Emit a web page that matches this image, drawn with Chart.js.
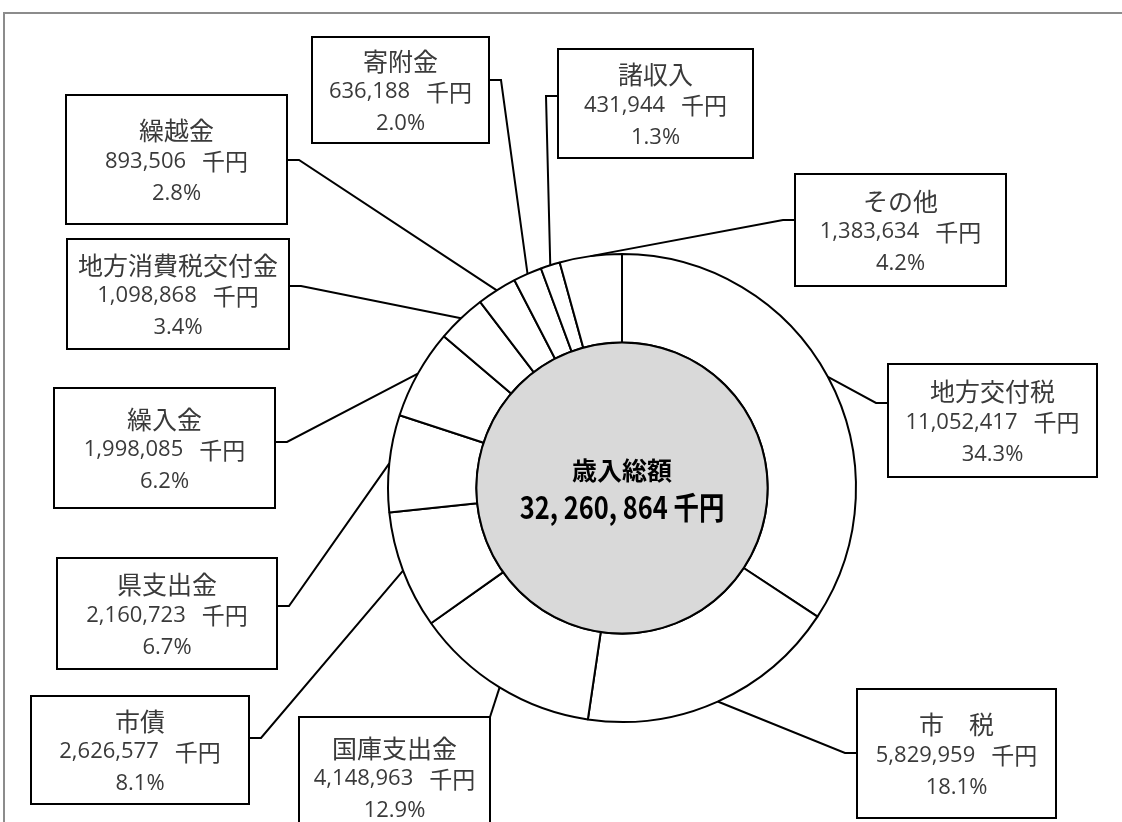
<!DOCTYPE html>
<html lang="ja">
<head>
<meta charset="utf-8">
<script src="https://cdn.jsdelivr.net/npm/chart.js@4.4.0/dist/chart.umd.min.js"></script>
<style>
  html, body { margin: 0; padding: 0; background: #fff; }
  #wrap { width: 1122px; height: 822px; position: relative; }
</style>
</head>
<body>
<div id="wrap"><canvas id="revenueChart" width="1122" height="822"></canvas></div>
<script>
const categories = ['地方交付税', '市　税', '国庫支出金', '市債', '県支出金', '繰入金', '地方消費税交付金', '繰越金', '寄附金', '諸収入', 'その他'];
const amounts = [11052417, 5829959, 4148963, 2626577, 2160723, 1998085, 1098868, 893506, 636188, 431944, 1383634];
const shareLabels = ['34.3%', '18.1%', '12.9%', '8.1%', '6.7%', '6.2%', '3.4%', '2.8%', '2.0%', '1.3%', '4.2%'];
const totalTitle = '歳入総額';
const unit = '千円';

// label boxes [x, y, w, h]; side = where the leader line meets the box, ly = its y
const callouts = [
    { box: [888, 364, 209, 113], side: 'left', ly: 403 },
    { box: [857, 689, 199, 129], side: 'left', ly: 753 },
    { box: [299, 717, 191, 120], side: 'corner' },
    { box: [31, 696, 218, 108], side: 'right', ly: 738 },
    { box: [57, 558, 220, 111], side: 'right', ly: 606 },
    { box: [54, 388, 221, 120], side: 'right', ly: 442 },
    { box: [67, 239, 222, 110], side: 'right', ly: 286 },
    { box: [66, 95, 221, 129], side: 'right', ly: 160 },
    { box: [312, 37, 177, 106], side: 'right', ly: 80 },
    { box: [558, 49, 195, 109], side: 'left', ly: 96 },
    { box: [795, 174, 211, 112], side: 'left', ly: 220 }
];

const numFont = '22px "Open Sans", "Noto Sans CJK JP"';
const unitFont = '23px "Noto Sans CJK JP"';
const nameFont = '25px "Noto Sans CJK JP"';

function fmt(n) {
    return n.toLocaleString('en-US');
}

const framePlugin = {
    id: 'frame',
    beforeDraw(chart) {
        const ctx = chart.ctx;
        ctx.save();
        ctx.strokeStyle = '#8c8c8c';
        ctx.lineWidth = 2;
        ctx.beginPath();
        ctx.moveTo(4, 830);
        ctx.lineTo(4, 13);
        ctx.lineTo(1130, 13);
        ctx.stroke();
        ctx.restore();
    }
};

// "1,998,085  千円" -- number and unit use different faces, so draw them as two runs
function drawAmount(ctx, text, cx, y) {
    const gap = 16;
    ctx.font = numFont;
    const w1 = ctx.measureText(text).width;
    ctx.font = unitFont;
    const w2 = ctx.measureText(unit).width;
    const x0 = cx - (w1 + gap + w2) / 2;
    ctx.textAlign = 'left';
    ctx.font = numFont;
    ctx.fillText(text, x0, y);
    ctx.font = unitFont;
    ctx.fillText(unit, x0 + w1 + gap, y);
    ctx.textAlign = 'center';
}

const calloutPlugin = {
    id: 'callouts',
    afterDatasetsDraw(chart) {
        const ctx = chart.ctx;
        const meta = chart.getDatasetMeta(0);
        const first = meta.data[0];
        const cx = first.x, cy = first.y;

        // grey hub with the total
        ctx.save();
        ctx.beginPath();
        ctx.arc(cx, cy, first.innerRadius, 0, Math.PI * 2);
        ctx.fillStyle = '#d9d9d9';
        ctx.fill();
        ctx.lineWidth = 2;
        ctx.strokeStyle = '#000';
        ctx.stroke();

        const total = amounts.reduce((a, b) => a + b, 0);
        ctx.fillStyle = '#000';
        ctx.textAlign = 'center';
        ctx.textBaseline = 'middle';
        ctx.font = 'bold 25px "Noto Sans CJK JP"';
        ctx.fillText(totalTitle, cx, cy - 18);
        ctx.save();
        ctx.translate(cx, cy + 19);
        ctx.scale(0.82, 1);
        ctx.font = 'bold 31px "Noto Sans CJK JP"';
        ctx.fillText(fmt(total).replace(/,/g, ', ') + ' ' + unit, 0, 0);
        ctx.restore();

        // leader lines and boxes
        meta.data.forEach((arc, i) => {
            const c = callouts[i];
            const [bx, by, bw, bh] = c.box;
            const mid = (arc.startAngle + arc.endAngle) / 2;
            const ax = arc.x + Math.cos(mid) * arc.outerRadius;
            const ay = arc.y + Math.sin(mid) * arc.outerRadius;

            ctx.strokeStyle = '#000';
            ctx.lineWidth = 2;
            ctx.beginPath();
            ctx.moveTo(ax, ay);
            if (c.side === 'left') {
                ctx.lineTo(bx - 12, c.ly);
                ctx.lineTo(bx, c.ly);
            } else if (c.side === 'right') {
                ctx.lineTo(bx + bw + 12, c.ly);
                ctx.lineTo(bx + bw, c.ly);
            } else {
                ctx.lineTo(bx + bw, by);
            }
            ctx.stroke();

            ctx.fillStyle = '#fff';
            ctx.fillRect(bx, by, bw, bh);
            ctx.strokeRect(bx, by, bw, bh);

            const tx = bx + bw / 2;
            const tm = by + bh / 2 + 2;
            ctx.fillStyle = '#3a3a3a';
            ctx.font = nameFont;
            ctx.fillText(categories[i], tx, tm - 31);
            drawAmount(ctx, fmt(amounts[i]), tx, tm);
            ctx.font = numFont;
            ctx.fillText(shareLabels[i], tx, tm + 32);
        });
        ctx.restore();
    }
};

new Chart(document.getElementById('revenueChart'), {
    type: 'doughnut',
    data: {
        labels: categories,
        datasets: [{
            data: amounts,
            backgroundColor: '#ffffff',
            borderColor: '#000000',
            borderWidth: 2,
            hoverOffset: 0
        }]
    },
    options: {
        responsive: false,
        devicePixelRatio: 1,
        animation: false,
        events: [],
        radius: 234,
        cutout: 145,
        layout: {
            padding: { left: 388, right: 266, top: 254, bottom: 100 }
        },
        plugins: {
            legend: { display: false },
            tooltip: { enabled: false }
        }
    },
    plugins: [framePlugin, calloutPlugin]
});
</script>
</body>
</html>
